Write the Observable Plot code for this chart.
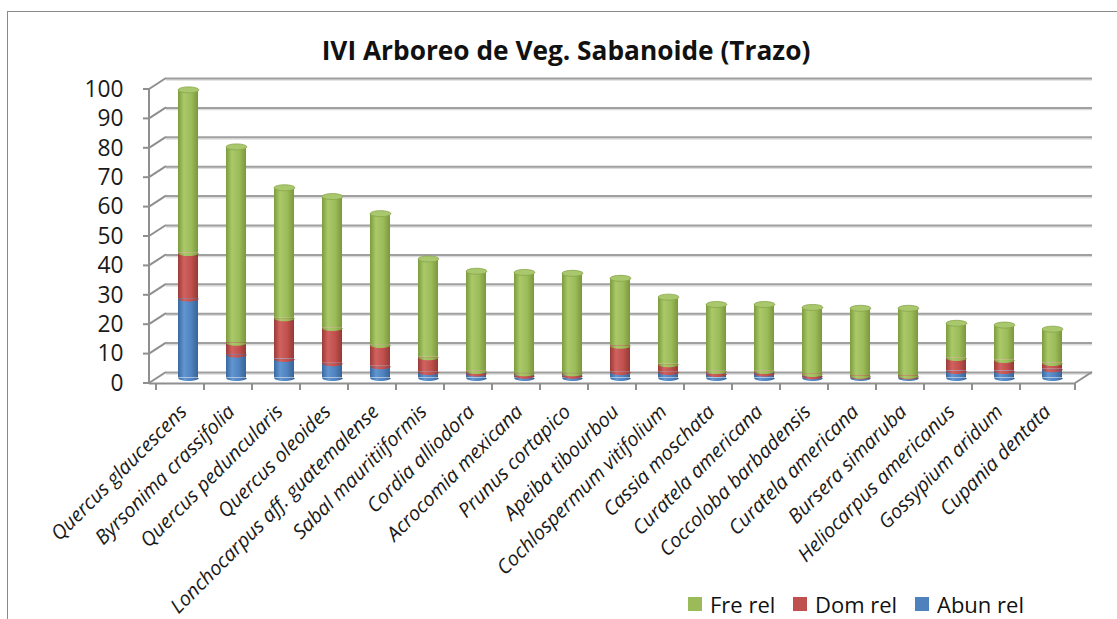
<!DOCTYPE html>
<html><head><meta charset="utf-8">
<script src="https://cdn.jsdelivr.net/npm/d3@7"></script>
<script src="https://cdn.jsdelivr.net/npm/@observablehq/plot@0.6"></script>
<style>
body{margin:0;background:#fff;}
#wrap{position:relative;width:1117px;height:619px;overflow:hidden;font-family:"Open Sans",Lato,sans-serif;background:#fff;}
#frame{position:absolute;left:7px;top:11px;width:1200px;height:700px;border:1.6px solid #8a8a8a;box-sizing:border-box;}
#title{position:absolute;left:0;top:0;font-weight:bold;color:#111;white-space:nowrap;}
.lgtext{position:absolute;color:#111;white-space:nowrap;}
.lgsw{position:absolute;width:14px;height:14px;}
#chart svg{position:absolute;left:0;top:0;overflow:visible;}
</style></head>
<body>
<div id="wrap">
  <div id="frame"></div>
  <div id="chart"></div>
  <div id="title">IVI Arboreo de Veg. Sabanoide (Trazo)</div>
</div>
<script>
const species = ["Quercus glaucescens","Byrsonima crassifolia","Quercus peduncularis","Quercus oleoides",
  "Lonchocarpus aff. guatemalense","Sabal mauritiiformis","Cordia alliodora","Acrocomia mexicana",
  "Prunus cortapico","Apeiba tibourbou","Cochlospermum vitifolium","Cassia moschata","Curatela americana",
  "Coccoloba barbadensis","Curatela americana","Bursera simaruba","Heliocarpus americanus","Gossypium aridum","Cupania dentata"];
const abunRel = [27, 8, 6.5, 5, 4, 2, 1.5, 0.8, 0.8, 2, 2, 1.4, 1.5, 0.6, 0.5, 0.5, 2.4, 2.4, 3];
const domRel  = [15.5, 4, 13.8, 12, 7.2, 5.1, 0.9, 0.8, 0.8, 9, 2.7, 1, 0.9, 0.8, 0.3, 0.3, 4.4, 3.7, 2.1];
const freRel  = [55.5, 66.6, 44.4, 44.7, 44.7, 33.4, 33.9, 34.3, 34, 22.9, 22.8, 22.6, 22.6, 22.6, 22.9, 22.9, 11.8, 11.9, 11.5];
const seriesNames = ["Abun rel","Dom rel","Fre rel"];
const legendOrder = ["Fre rel","Dom rel","Abun rel"];
const yTicks = [0,10,20,30,40,50,60,70,80,90,100];
const solid = {"Fre rel":"#9BBB59","Dom rel":"#C0504D","Abun rel":"#4F81BD"};
const gradId = {"Fre rel":"url(#gFre)","Dom rel":"url(#gDom)","Abun rel":"url(#gAbun)"};

// font fitting helper (sizes chosen so text widths match the reference)
const ctx = document.createElement("canvas").getContext("2d");
function fitSize(text, style, family, target){
  ctx.font = `${style} 100px ${family}`;
  return 100 * target / ctx.measureText(text).width;
}
const FAM = "'Open Sans'";
const titleSize = fitSize("IVI Arboreo de Veg. Sabanoide (Trazo)", "bold", FAM, 489);
const ySize = fitSize("100", "normal", FAM, 39);
const xSize = fitSize("Quercus glaucescens", "italic", FAM, 182);
const lgSize = fitSize("Abun rel", "normal", FAM, 87);

const rows = [];
species.forEach((s, i) => {
  rows.push({i, series: "Abun rel", value: abunRel[i]});
  rows.push({i, series: "Dom rel", value: domRel[i]});
  rows.push({i, series: "Fre rel", value: freRel[i]});
});

const RX = 10.35, RY = 3, K = 0.5523;
const fullEll = {draw(c){ c.moveTo(-RX,0); c.bezierCurveTo(-RX,K*RY,-K*RX,RY,0,RY); c.bezierCurveTo(K*RX,RY,RX,K*RY,RX,0);
  c.bezierCurveTo(RX,-K*RY,K*RX,-RY,0,-RY); c.bezierCurveTo(-K*RX,-RY,-RX,-K*RY,-RX,0); c.closePath(); }};
const halfEll = {draw(c){ c.moveTo(-RX,0); c.bezierCurveTo(-RX,K*RY,-K*RX,RY,0,RY); c.bezierCurveTo(K*RX,RY,RX,K*RY,RX,0); c.closePath(); }};

const DX = 17, DY = -11; // depth of the 3D box
const BX = 8, BY = -5.5;  // bars sit at mid depth

const plot = Plot.plot({
  width: 1117, height: 619,
  marginLeft: 149, marginRight: 42, marginTop: 89, marginBottom: 236,
  style: {fontFamily: "'Open Sans', Lato, sans-serif", fontSize: ySize + "px", color: "#1a1a1a", background: "transparent", overflow: "visible"},
  x: {type: "band", domain: d3.range(species.length), padding: 0, label: null},
  y: {domain: [0, 100], label: null},
  color: {type: "ordinal", domain: seriesNames, range: seriesNames.map(s => gradId[s])},
  marks: [
    Plot.ruleY(yTicks, {dx: DX, dy: DY + 1.6, stroke: "#dcdcdc", strokeWidth: 1.5}),
    Plot.ruleY(yTicks, {dx: DX, dy: DY, stroke: "#a0a0a0", strokeWidth: 2}),
    Plot.ruleY([0], {stroke: "#8f8f8f", strokeWidth: 2}),
    Plot.axisY({ticks: yTicks, tickSize: 0, tickPadding: 26, fontSize: ySize, label: null}),
    Plot.axisX({tickSize: 0, tickRotate: -45, tickPadding: 25, dx: 3, fontSize: xSize, fontStyle: "italic", label: null, tickFormat: i => species[i]}),
    Plot.barY(rows, Plot.stackY({x: "i", y: "value", fill: "series", dx: BX, dy: BY, insetLeft: 14, insetRight: 14})),
    Plot.dot(rows, Plot.stackY1({x: "i", y: "value", z: "series", fill: "series", symbol: halfEll, dx: BX, dy: BY})),
    Plot.dot(rows, Plot.groupX({y: "sum"}, {x: "i", y: "value", fill: "#a9c76d", stroke: "#86a548", strokeWidth: 0.8, symbol: fullEll, dx: BX, dy: BY}))
  ]
});

// gradients for cylinder shading
const defs = d3.select(plot).insert("defs", ":first-child");
function grad(id, stops){
  const g = defs.append("linearGradient").attr("id", id).attr("x1","0").attr("x2","1").attr("y1","0").attr("y2","0");
  stops.forEach(([o,c]) => g.append("stop").attr("offset", o).attr("stop-color", c));
}
grad("gFre", [[0,"#7c9b3d"],[0.3,"#a9c96a"],[0.65,"#9dbd5b"],[1,"#799839"]]);
grad("gDom", [[0,"#9b3a37"],[0.3,"#d1625f"],[0.65,"#c2514e"],[1,"#963835"]]);
grad("gAbun", [[0,"#3b679d"],[0.3,"#6096d2"],[0.65,"#5083bf"],[1,"#386398"]]);

// 3D box frame lines drawn from the plot's own scales
const X = plot.scale("x"), Y = plot.scale("y");
const x0 = X.range[0], x1 = X.range[1], y0 = Y.apply(0), yTop = Y.apply(100);
const lines = [];
lines.push([x0, y0, x0, yTop]);
yTicks.forEach(v => { const y = Y.apply(v); lines.push([x0 - 6, y, x0, y]); lines.push([x0, y, x0 + DX, y + DY]); });
lines.push([x1, y0, x1 + DX, y0 + DY]);
d3.range(species.length + 1).forEach(i => { const p = i < species.length ? X.apply(i) : x1; lines.push([p, y0, p, y0 + 7]); });
d3.select(plot).append("g").attr("stroke", "#8f8f8f").attr("stroke-width", 2)
  .selectAll("line").data(lines).join("line")
  .attr("x1", d => d[0]).attr("y1", d => d[1]).attr("x2", d => d[2]).attr("y2", d => d[3]);

document.getElementById("chart").appendChild(plot);

// title: centred at x≈566, baseline ≈58
const t = document.getElementById("title");
t.style.fontSize = titleSize + "px";
t.style.lineHeight = "1";
const tw = t.getBoundingClientRect().width;
t.style.left = (566 - tw / 2) + "px";
t.style.top = (58 - 0.80 * titleSize) + "px";

// legend
const wrap = document.getElementById("wrap");
const swX = [688, 793, 915];
legendOrder.forEach((s, k) => {
  const sw = document.createElement("div"); sw.className = "lgsw";
  sw.style.left = swX[k] + "px"; sw.style.top = "597px"; sw.style.background = solid[s];
  wrap.appendChild(sw);
  const tx = document.createElement("div"); tx.className = "lgtext"; tx.textContent = s;
  tx.style.fontSize = lgSize + "px"; tx.style.lineHeight = "1.4";
  tx.style.left = (swX[k] + 22) + "px"; tx.style.top = (611 - 1.0 * lgSize) + "px";
  wrap.appendChild(tx);
});
</script>
</body></html>
